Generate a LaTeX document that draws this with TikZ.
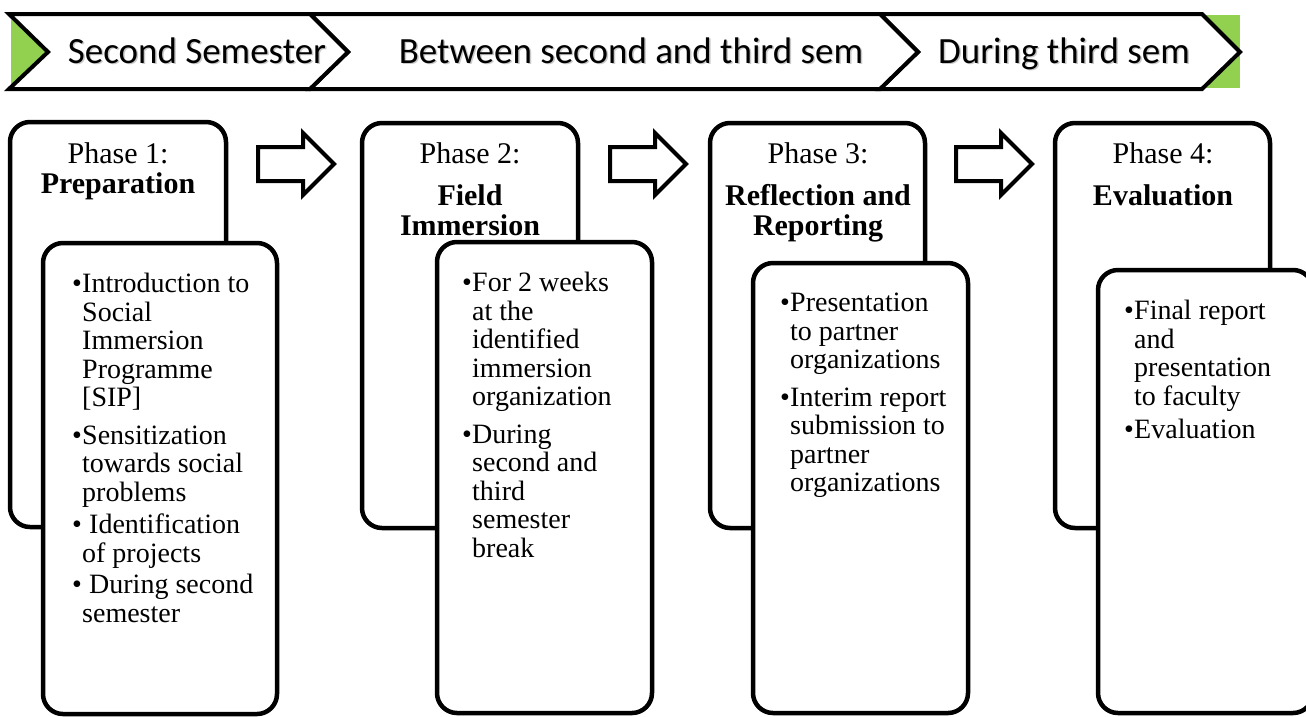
\documentclass[tikz,border=0pt]{standalone}
\usepackage{fontspec}
\setmainfont{Liberation Serif}
\newfontfamily\bannerfont{Carlito}
\definecolor{leafgreen}{HTML}{92D050}
\newcommand{\bul}{\makebox[10pt][l]{\textbullet}}
\newcommand{\ind}{\hspace*{10pt}}
\begin{document}
\begin{tikzpicture}[x=1pt,y=-1pt,
  chev/.style={draw=black, line width=4pt, fill=white, line join=miter},
  bannertext/.style={font=\bannerfont\fontsize{37}{37}\selectfont, inner sep=0, anchor=base},
  shadowtext/.style={bannertext, text=black!35, opacity=0.6},
  outerbox/.style={draw=black, line width=4.5pt, fill=white, rounded corners=20pt, rectangle, inner sep=0, outer sep=0, anchor=north west},
  titletext/.style={font=\fontsize{30}{30}\selectfont, align=center, inner sep=0, anchor=north},
  bodytext/.style={font=\fontsize{28}{28.5}\selectfont, align=left, inner sep=0, anchor=north west},
  blockarrow/.style={draw=black, line width=4pt, fill=white, line join=miter}
]
\useasboundingbox (0,0) rectangle (1306,716);
\clip (0,0) rectangle (1306,716);
\fill[white] (0,0) rectangle (1306,716);

% ---------- banner ----------
\fill[leafgreen] (11,15) rectangle (1240,88);
\draw[chev] (880,14) -- (1202,14) -- (1240,52) -- (1202,89) -- (880,89) -- (918,52) -- cycle;
\draw[chev] (310,14) -- (880,14) -- (918,52) -- (880,89) -- (310,89) -- (348,52) -- cycle;
\draw[chev] (9,14) -- (310,14) -- (348,52) -- (310,89) -- (9,89) -- (48,52) -- cycle;

\node[shadowtext] at (198.5,64.5) {Second Semester};
\node[bannertext] (s1) at (197,63) {Second Semester};
\node[shadowtext] at (632.5,64.5) {Between second and third sem};
\node[bannertext] (s2) at (631,63) {Between second and third sem};
\node[shadowtext] at (1065.5,64.5) {During third sem};
\node[bannertext] (s3) at (1064,63) {During third sem};

% ---------- phase boxes ----------
\node[outerbox, minimum width=216pt, minimum height=405pt] (o1) at (10,122) {};
\node[outerbox, minimum width=234pt, minimum height=471pt] (i1) at (43,243) {};
\node[outerbox, minimum width=216pt, minimum height=405pt] (o2) at (362,123) {};
\node[outerbox, minimum width=215pt, minimum height=471pt] (i2) at (437,242) {};
\node[outerbox, minimum width=215pt, minimum height=405pt] (o3) at (710,123) {};
\node[outerbox, minimum width=215pt, minimum height=450pt] (i3) at (753,263) {};
\node[outerbox, minimum width=215pt, minimum height=405pt] (o4) at (1055,123) {};
\node[outerbox, minimum width=215pt, minimum height=443pt] (i4) at (1098,270) {};

% ---------- block arrows ----------
\foreach \n/\x in {a1/258, a2/610, a3/956}{
  \coordinate (\n) at (\x,164);
  \draw[blockarrow] (\n) ++(0,-17) -- ++(45,0) -- ++(0,-14) -- ++(31,31) -- ++(-31,31) -- ++(0,-14) -- ++(-45,0) -- cycle;
}

% ---------- titles ----------
\node[titletext] (t1) at (118,142) {Phase 1:\\\textbf{Preparation}};
\node[titletext] (t2) at (470,142) {Phase 2:\\[12pt]\textbf{Field}\\\textbf{Immersion}};
\node[titletext] (t3) at (818,142) {Phase 3:\\[12pt]\textbf{Reflection and}\\\textbf{Reporting}};
\node[titletext] (t4) at (1163,142) {Phase 4:\\[12pt]\textbf{Evaluation}};

% ---------- body texts ----------
\node[bodytext] (b1) at (72,273) {\bul Introduction to\\\ind Social\\\ind Immersion\\\ind Programme\\\ind [SIP]\\[9pt]\bul Sensitization\\\ind towards social\\\ind problems\\[4pt]\bul\ Identification\\\ind of projects\\[3pt]\bul\ During second\\\ind semester};
\node[bodytext] (b2) at (462,272) {\bul For 2 weeks\\\ind at the\\\ind identified\\\ind immersion\\\ind organization\\[9pt]\bul During\\\ind second and\\\ind third\\\ind semester\\\ind break};
\node[bodytext] (b3) at (780,293) {\bul Presentation\\\ind to partner\\\ind organizations\\[9pt]\bul Interim report\\\ind submission to\\\ind partner\\\ind organizations};
\node[bodytext] (b4) at (1124,300) {\bul Final report\\\ind and\\\ind presentation\\\ind to faculty\\[5pt]\bul Evaluation};
\end{tikzpicture}
\end{document}
